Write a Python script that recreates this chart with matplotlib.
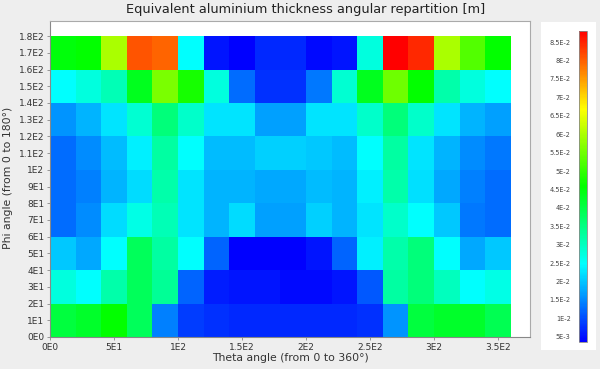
import numpy as np
import matplotlib
matplotlib.use("Agg")
import matplotlib.pyplot as plt
from matplotlib.colors import LinearSegmentedColormap
from matplotlib.ticker import FuncFormatter

# bin edges (degrees)
theta_edges = np.arange(0, 361, 20)
phi_edges = np.arange(0, 181, 20)

# equivalent aluminium thickness [m], rows from phi=0 (bottom) to phi=180 (top)
row_000_020 = [0.0408, 0.0425, 0.0458, 0.0383, 0.0144, 0.0086, 0.0077, 0.0069, 0.0069,
               0.0069, 0.0069, 0.0069, 0.0077, 0.0160, 0.0408, 0.0425, 0.0425, 0.0392]
row_020_040 = [0.0276, 0.0247, 0.0317, 0.0383, 0.0334, 0.0119, 0.0061, 0.0053, 0.0053,
               0.0044, 0.0044, 0.0053, 0.0110, 0.0326, 0.0359, 0.0301, 0.0247, 0.0268]
row_040_060 = [0.0201, 0.0177, 0.0247, 0.0383, 0.0326, 0.0247, 0.0119, 0.0036, 0.0036,
               0.0036, 0.0053, 0.0119, 0.0234, 0.0317, 0.0359, 0.0247, 0.0177, 0.0201]
row_060_080 = [0.0127, 0.0152, 0.0218, 0.0268, 0.0309, 0.0226, 0.0185, 0.0218, 0.0168,
               0.0168, 0.0210, 0.0185, 0.0226, 0.0292, 0.0247, 0.0201, 0.0135, 0.0127]
row_080_100 = [0.0127, 0.0144, 0.0185, 0.0218, 0.0317, 0.0226, 0.0185, 0.0185, 0.0177,
               0.0177, 0.0193, 0.0185, 0.0234, 0.0317, 0.0222, 0.0177, 0.0144, 0.0127]
row_100_120 = [0.0127, 0.0152, 0.0193, 0.0234, 0.0326, 0.0247, 0.0193, 0.0193, 0.0210,
               0.0210, 0.0201, 0.0193, 0.0247, 0.0326, 0.0226, 0.0185, 0.0152, 0.0135]
row_120_140 = [0.0160, 0.0185, 0.0226, 0.0284, 0.0359, 0.0292, 0.0226, 0.0226, 0.0168,
               0.0168, 0.0226, 0.0226, 0.0292, 0.0359, 0.0292, 0.0226, 0.0185, 0.0168]
row_140_160 = [0.0247, 0.0276, 0.0309, 0.0433, 0.0557, 0.0475, 0.0276, 0.0127, 0.0077,
               0.0077, 0.0135, 0.0284, 0.0433, 0.0549, 0.0458, 0.0317, 0.0276, 0.0247]
row_160_180 = [0.0450, 0.0458, 0.0599, 0.0810, 0.0797, 0.0247, 0.0053, 0.0036, 0.0069,
               0.0069, 0.0044, 0.0053, 0.0276, 0.0880, 0.0847, 0.0599, 0.0524, 0.0458]

grid = np.array([row_000_020, row_020_040, row_040_060, row_060_080, row_080_100,
                 row_100_120, row_120_140, row_140_160, row_160_180])

cbar_ticks = np.arange(0.005, 0.0851, 0.005)

cmap = LinearSegmentedColormap.from_list(
    "rainbow5", ["#0000ff", "#00ffff", "#00ff00", "#ffff00", "#ff0000"])


def sci_fmt(v, pos=None):
    if abs(v) < 1e-12:
        return "0E0"
    s = "%.3E" % v
    mant, ex = s.split("E")
    mant = mant.rstrip("0").rstrip(".")
    return "%sE%d" % (mant, int(ex))


fig = plt.figure(figsize=(6, 3.69), dpi=100, facecolor="#eeeeee")

ax = fig.add_axes([50 / 600, 32 / 369, 480 / 600, 316.3 / 369])
ax.set_facecolor("white")
mesh = ax.pcolormesh(theta_edges, phi_edges, grid, cmap=cmap,
                     vmin=grid.min(), vmax=grid.max(), shading="flat")
ax.set_xlim(0, 375)
ax.set_ylim(0, 189.2)
ax.set_xticks(np.arange(0, 351, 50))
ax.set_yticks(np.arange(0, 181, 10))
ax.xaxis.set_major_formatter(FuncFormatter(sci_fmt))
ax.yaxis.set_major_formatter(FuncFormatter(sci_fmt))
ax.tick_params(labelsize=6.5, length=2, width=0.6, color="#888888",
               labelcolor="#333333", pad=2)
for sp in ax.spines.values():
    sp.set_color("#aaaaaa")
    sp.set_linewidth(0.8)
ax.spines["left"].set_color("#888888")
ax.spines["bottom"].set_color("#888888")

fig.text(290 / 600, 1 - 358 / 369, "Theta angle (from 0 to 360°)",
         ha="center", va="center", fontsize=7.8, color="#333333")
fig.text(8 / 600, 1 - 178 / 369, "Phi angle (from 0 to 180°)",
         ha="center", va="center", rotation=90, fontsize=7.8, color="#333333")
fig.text(306 / 600, 1 - 10 / 369,
         "Equivalent aluminium thickness angular repartition [m]",
         ha="center", va="center", fontsize=9.3, color="#222222")

# white panel behind the colour scale
panel = fig.add_axes([541 / 600, 19 / 369, 55 / 600, 328 / 369], zorder=0)
panel.set_facecolor("white")
panel.set_xticks([])
panel.set_yticks([])
for sp in panel.spines.values():
    sp.set_visible(False)

cax = fig.add_axes([579 / 600, 27 / 369, 8 / 600, 311 / 369], zorder=2)
cb = fig.colorbar(mesh, cax=cax, ticks=cbar_ticks)
cb.outline.set_edgecolor("#888888")
cb.outline.set_linewidth(0.6)
cax.yaxis.set_ticks_position("left")
cax.yaxis.set_major_formatter(FuncFormatter(sci_fmt))
cax.tick_params(labelsize=4.7, length=0, pad=6, labelcolor="#444444")

fig.savefig("out.png", dpi=100, facecolor=fig.get_facecolor())
